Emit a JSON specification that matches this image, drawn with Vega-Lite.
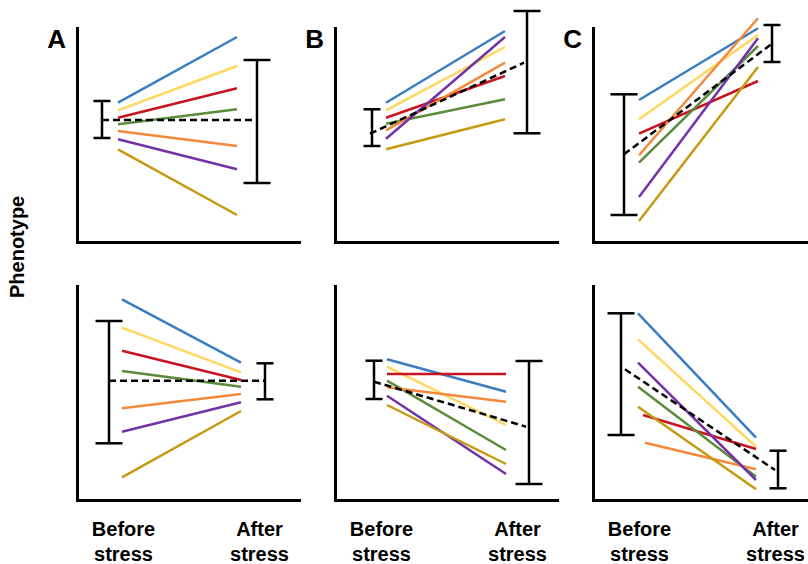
{
  "$schema": "https://vega.github.io/schema/vega-lite/v6.json",
  "autosize": {"type": "pad"},
  "padding": {"left": 8, "top": 9, "right": 0, "bottom": 0},
  "background": "white",
  "title": {"text": "Phenotype", "orient": "left", "anchor": "middle", "font": "Liberation Sans", "fontSize": 20, "fontWeight": "bold", "color": "black", "offset": 19, "dx": 40},
  "config": {
    "view": {"stroke": null},
    "axis": {"domainColor": "black", "domainWidth": 3, "ticks": false, "grid": false, "title": null, "domainCap": "square"}
  },
  "data": {"values": [
    {"row":"top","panel":"A","kind":"line","series":"blue","x":41,"y":139.3},{"row":"top","panel":"A","kind":"line","series":"blue","x":160,"y":205},
    {"row":"top","panel":"A","kind":"line","series":"yellow","x":41,"y":131.7},{"row":"top","panel":"A","kind":"line","series":"yellow","x":160,"y":176},
    {"row":"top","panel":"A","kind":"line","series":"red","x":41,"y":124.3},{"row":"top","panel":"A","kind":"line","series":"red","x":160,"y":153.7},
    {"row":"top","panel":"A","kind":"line","series":"green","x":41,"y":117.7},{"row":"top","panel":"A","kind":"line","series":"green","x":160,"y":132.7},
    {"row":"top","panel":"A","kind":"line","series":"orange","x":41,"y":111},{"row":"top","panel":"A","kind":"line","series":"orange","x":160,"y":96},
    {"row":"top","panel":"A","kind":"line","series":"purple","x":41,"y":102.7},{"row":"top","panel":"A","kind":"line","series":"purple","x":160,"y":72.7},
    {"row":"top","panel":"A","kind":"line","series":"gold","x":41,"y":92.7},{"row":"top","panel":"A","kind":"line","series":"gold","x":160,"y":27},
    {"row":"top","panel":"A","kind":"mean","x":25,"y":122},{"row":"top","panel":"A","kind":"mean","x":180,"y":122},
    {"row":"top","panel":"A","kind":"err","x":25,"lo":104,"hi":141,"spread":"narrow"},
    {"row":"top","panel":"A","kind":"err","x":180,"lo":59,"hi":182,"spread":"wide"},
    {"row":"top","panel":"A","kind":"letter"},

    {"row":"top","panel":"B","kind":"line","series":"blue","x":51,"y":139.3},{"row":"top","panel":"B","kind":"line","series":"blue","x":170,"y":211},
    {"row":"top","panel":"B","kind":"line","series":"yellow","x":51,"y":131.7},{"row":"top","panel":"B","kind":"line","series":"yellow","x":170,"y":195},
    {"row":"top","panel":"B","kind":"line","series":"red","x":51,"y":124.3},{"row":"top","panel":"B","kind":"line","series":"red","x":170,"y":166},
    {"row":"top","panel":"B","kind":"line","series":"green","x":51,"y":118.3},{"row":"top","panel":"B","kind":"line","series":"green","x":170,"y":142.7},
    {"row":"top","panel":"B","kind":"line","series":"orange","x":51,"y":111.7},{"row":"top","panel":"B","kind":"line","series":"orange","x":170,"y":179.3},
    {"row":"top","panel":"B","kind":"line","series":"purple","x":51,"y":103.3},{"row":"top","panel":"B","kind":"line","series":"purple","x":170,"y":205},
    {"row":"top","panel":"B","kind":"line","series":"gold","x":51,"y":92.7},{"row":"top","panel":"B","kind":"line","series":"gold","x":170,"y":122.7},
    {"row":"top","panel":"B","kind":"mean","x":35,"y":108.3},{"row":"top","panel":"B","kind":"mean","x":189,"y":179.3},
    {"row":"top","panel":"B","kind":"err","x":37,"lo":96,"hi":132.7,"spread":"narrow"},
    {"row":"top","panel":"B","kind":"err","x":192,"lo":108.7,"hi":231,"spread":"wide"},
    {"row":"top","panel":"B","kind":"letter"},

    {"row":"top","panel":"C","kind":"line","series":"blue","x":46,"y":142},{"row":"top","panel":"C","kind":"line","series":"blue","x":165,"y":213.7},
    {"row":"top","panel":"C","kind":"line","series":"yellow","x":46,"y":122.7},{"row":"top","panel":"C","kind":"line","series":"yellow","x":165,"y":207},
    {"row":"top","panel":"C","kind":"line","series":"red","x":46,"y":108.3},{"row":"top","panel":"C","kind":"line","series":"red","x":165,"y":161},
    {"row":"top","panel":"C","kind":"line","series":"green","x":46,"y":79.3},{"row":"top","panel":"C","kind":"line","series":"green","x":165,"y":196},
    {"row":"top","panel":"C","kind":"line","series":"orange","x":46,"y":86.7},{"row":"top","panel":"C","kind":"line","series":"orange","x":165,"y":223.7},
    {"row":"top","panel":"C","kind":"line","series":"purple","x":46,"y":45},{"row":"top","panel":"C","kind":"line","series":"purple","x":165,"y":203.7},
    {"row":"top","panel":"C","kind":"line","series":"gold","x":46,"y":21},{"row":"top","panel":"C","kind":"line","series":"gold","x":165,"y":175},
    {"row":"top","panel":"C","kind":"mean","x":31,"y":87.7},{"row":"top","panel":"C","kind":"mean","x":179,"y":198.3},
    {"row":"top","panel":"C","kind":"err","x":31,"lo":27,"hi":147.7,"spread":"wide"},
    {"row":"top","panel":"C","kind":"err","x":179,"lo":180,"hi":217,"spread":"narrow"},
    {"row":"top","panel":"C","kind":"letter"},

    {"row":"bottom","panel":"A","kind":"line","series":"blue","x":45,"y":200.7},{"row":"bottom","panel":"A","kind":"line","series":"blue","x":164,"y":137.3},
    {"row":"bottom","panel":"A","kind":"line","series":"yellow","x":45,"y":172.3},{"row":"bottom","panel":"A","kind":"line","series":"yellow","x":164,"y":127.7},
    {"row":"bottom","panel":"A","kind":"line","series":"red","x":45,"y":149.3},{"row":"bottom","panel":"A","kind":"line","series":"red","x":164,"y":120},
    {"row":"bottom","panel":"A","kind":"line","series":"green","x":45,"y":129},{"row":"bottom","panel":"A","kind":"line","series":"green","x":164,"y":113.3},
    {"row":"bottom","panel":"A","kind":"line","series":"orange","x":45,"y":91.7},{"row":"bottom","panel":"A","kind":"line","series":"orange","x":164,"y":106},
    {"row":"bottom","panel":"A","kind":"line","series":"purple","x":45,"y":68.3},{"row":"bottom","panel":"A","kind":"line","series":"purple","x":164,"y":97.7},
    {"row":"bottom","panel":"A","kind":"line","series":"gold","x":45,"y":22.7},{"row":"bottom","panel":"A","kind":"line","series":"gold","x":164,"y":89},
    {"row":"bottom","panel":"A","kind":"mean","x":32,"y":119.3},{"row":"bottom","panel":"A","kind":"mean","x":188,"y":119.3},
    {"row":"bottom","panel":"A","kind":"err","x":32,"lo":56.7,"hi":179,"spread":"wide"},
    {"row":"bottom","panel":"A","kind":"err","x":188,"lo":100.7,"hi":136.7,"spread":"narrow"},

    {"row":"bottom","panel":"B","kind":"line","series":"blue","x":52,"y":140.7},{"row":"bottom","panel":"B","kind":"line","series":"blue","x":171,"y":108.3},
    {"row":"bottom","panel":"B","kind":"line","series":"yellow","x":52,"y":133.3},{"row":"bottom","panel":"B","kind":"line","series":"yellow","x":171,"y":75},
    {"row":"bottom","panel":"B","kind":"line","series":"red","x":52,"y":126},{"row":"bottom","panel":"B","kind":"line","series":"red","x":171,"y":126},
    {"row":"bottom","panel":"B","kind":"line","series":"green","x":52,"y":119.3},{"row":"bottom","panel":"B","kind":"line","series":"green","x":171,"y":50},
    {"row":"bottom","panel":"B","kind":"line","series":"orange","x":52,"y":112.7},{"row":"bottom","panel":"B","kind":"line","series":"orange","x":171,"y":98.3},
    {"row":"bottom","panel":"B","kind":"line","series":"purple","x":52,"y":104.3},{"row":"bottom","panel":"B","kind":"line","series":"purple","x":171,"y":26},
    {"row":"bottom","panel":"B","kind":"line","series":"gold","x":52,"y":95},{"row":"bottom","panel":"B","kind":"line","series":"gold","x":171,"y":36},
    {"row":"bottom","panel":"B","kind":"mean","x":39,"y":118.3},{"row":"bottom","panel":"B","kind":"mean","x":191,"y":73.3},
    {"row":"bottom","panel":"B","kind":"err","x":39,"lo":101,"hi":139.3,"spread":"narrow"},
    {"row":"bottom","panel":"B","kind":"err","x":194,"lo":16,"hi":139,"spread":"wide"},

    {"row":"bottom","panel":"C","kind":"line","series":"blue","x":45,"y":186.7},{"row":"bottom","panel":"C","kind":"line","series":"blue","x":163,"y":62.3},
    {"row":"bottom","panel":"C","kind":"line","series":"yellow","x":45,"y":160.7},{"row":"bottom","panel":"C","kind":"line","series":"yellow","x":163,"y":53.3},
    {"row":"bottom","panel":"C","kind":"line","series":"red","x":50,"y":85},{"row":"bottom","panel":"C","kind":"line","series":"red","x":163,"y":51},
    {"row":"bottom","panel":"C","kind":"line","series":"green","x":45,"y":113.3},{"row":"bottom","panel":"C","kind":"line","series":"green","x":163,"y":23.3},
    {"row":"bottom","panel":"C","kind":"line","series":"orange","x":52,"y":57.3},{"row":"bottom","panel":"C","kind":"line","series":"orange","x":163,"y":30.7},
    {"row":"bottom","panel":"C","kind":"line","series":"purple","x":45,"y":137.3},{"row":"bottom","panel":"C","kind":"line","series":"purple","x":163,"y":20},
    {"row":"bottom","panel":"C","kind":"line","series":"gold","x":45,"y":93.3},{"row":"bottom","panel":"C","kind":"line","series":"gold","x":163,"y":10.7},
    {"row":"bottom","panel":"C","kind":"mean","x":32,"y":130.7},{"row":"bottom","panel":"C","kind":"mean","x":182,"y":30},
    {"row":"bottom","panel":"C","kind":"err","x":28,"lo":65,"hi":186.7,"spread":"wide"},
    {"row":"bottom","panel":"C","kind":"err","x":185,"lo":11.7,"hi":49.3,"spread":"narrow"}
  ]},
  "spacing": 44,
  "vconcat": [
    {
      "transform": [{"filter": "datum.row === 'top'"}],
      "facet": {"column": {"field": "panel", "type": "nominal", "header": null}},
      "spacing": 6,
      "resolve": {"scale": {"x": "independent", "y": "independent"}, "axis": {"x": "independent", "y": "independent"}},
      "spec": {
        "width": 222,
        "height": 214,
        "layer": [
          {
            "transform": [{"filter": "datum.kind === 'line'"}],
            "mark": {"type": "line", "strokeWidth": 2.5, "clip": false},
            "encoding": {
              "x": {"field": "x", "type": "quantitative", "scale": {"domain": [0, 222], "nice": false, "zero": false}, "axis": {"labels": false}},
              "y": {"field": "y", "type": "quantitative", "scale": {"domain": [0, 214], "nice": false, "zero": false}, "axis": {"labels": false}},
              "color": {"field": "series", "type": "nominal", "legend": null, "scale": {"domain": ["blue","yellow","red","green","orange","purple","gold"], "range": ["#3A7DC2","#FFD75E","#C8141E","#5A8C3C","#F5893A","#7233A8","#C49A10"]}},
              "detail": {"field": "series"}
            }
          },
          {
            "transform": [{"filter": "datum.kind === 'mean'"}],
            "mark": {"type": "line", "strokeWidth": 2.5, "color": "black", "strokeDash": [7, 4], "clip": false},
            "encoding": {
              "x": {"field": "x", "type": "quantitative", "scale": {"domain": [0, 222], "nice": false, "zero": false}},
              "y": {"field": "y", "type": "quantitative", "scale": {"domain": [0, 214], "nice": false, "zero": false}}
            }
          },
          {
            "transform": [{"filter": "datum.kind === 'err'"}],
            "mark": {"type": "rule", "strokeWidth": 2.5, "color": "black", "clip": false},
            "encoding": {
              "x": {"field": "x", "type": "quantitative", "scale": {"domain": [0, 222], "nice": false, "zero": false}},
              "y": {"field": "lo", "type": "quantitative", "scale": {"domain": [0, 214], "nice": false, "zero": false}},
              "y2": {"field": "hi"}
            }
          },
          {
            "transform": [{"filter": "datum.kind === 'err'"}, {"fold": ["lo", "hi"], "as": ["end", "val"]}],
            "mark": {"type": "tick", "orient": "horizontal", "thickness": 2.5, "color": "black", "opacity": 1, "clip": false},
            "encoding": {
              "x": {"field": "x", "type": "quantitative", "scale": {"domain": [0, 222], "nice": false, "zero": false}},
              "y": {"field": "val", "type": "quantitative", "scale": {"domain": [0, 214], "nice": false, "zero": false}},
              "size": {"field": "spread", "type": "nominal", "legend": null, "scale": {"domain": ["wide", "narrow"], "range": [27, 17]}}
            }
          },
          {
            "transform": [{"filter": "datum.kind === 'letter'"}],
            "mark": {"type": "text", "font": "Liberation Sans", "fontSize": 26, "fontWeight": "bold", "color": "black", "align": "right", "baseline": "alphabetic", "dx": -11, "dy": 20, "clip": false},
            "encoding": {
              "x": {"datum": 0, "type": "quantitative", "scale": {"domain": [0, 222], "nice": false, "zero": false}},
              "y": {"datum": 214, "type": "quantitative", "scale": {"domain": [0, 214], "nice": false, "zero": false}},
              "text": {"field": "panel"}
            }
          }
        ]
      }
    },
    {
      "transform": [{"filter": "datum.row === 'bottom'"}],
      "facet": {"column": {"field": "panel", "type": "nominal", "header": null}},
      "spacing": 36,
      "resolve": {"scale": {"x": "independent", "y": "independent"}, "axis": {"x": "independent", "y": "independent"}},
      "spec": {
        "width": 222,
        "height": 214,
        "layer": [
          {
            "transform": [{"filter": "datum.kind === 'line'"}],
            "mark": {"type": "line", "strokeWidth": 2.5, "clip": false},
            "encoding": {
              "x": {"field": "x", "type": "quantitative", "scale": {"domain": [0, 222], "nice": false, "zero": false}, "axis": {"values": [46, 182], "labelExpr": "datum.value < 100 ? ['Before', 'stress'] : ['After', 'stress']", "labelFont": "Liberation Sans", "labelFontSize": 20, "labelFontWeight": "bold", "labelColor": "black", "labelLineHeight": 25, "labelPadding": 19, "labelFlush": false, "labelOverlap": false, "labelBound": false}},
              "y": {"field": "y", "type": "quantitative", "scale": {"domain": [0, 214], "nice": false, "zero": false}, "axis": {"labels": false}},
              "color": {"field": "series", "type": "nominal", "legend": null, "scale": {"domain": ["blue","yellow","red","green","orange","purple","gold"], "range": ["#3A7DC2","#FFD75E","#C8141E","#5A8C3C","#F5893A","#7233A8","#C49A10"]}},
              "detail": {"field": "series"}
            }
          },
          {
            "transform": [{"filter": "datum.kind === 'mean'"}],
            "mark": {"type": "line", "strokeWidth": 2.5, "color": "black", "strokeDash": [7, 4], "clip": false},
            "encoding": {
              "x": {"field": "x", "type": "quantitative", "scale": {"domain": [0, 222], "nice": false, "zero": false}},
              "y": {"field": "y", "type": "quantitative", "scale": {"domain": [0, 214], "nice": false, "zero": false}}
            }
          },
          {
            "transform": [{"filter": "datum.kind === 'err'"}],
            "mark": {"type": "rule", "strokeWidth": 2.5, "color": "black", "clip": false},
            "encoding": {
              "x": {"field": "x", "type": "quantitative", "scale": {"domain": [0, 222], "nice": false, "zero": false}},
              "y": {"field": "lo", "type": "quantitative", "scale": {"domain": [0, 214], "nice": false, "zero": false}},
              "y2": {"field": "hi"}
            }
          },
          {
            "transform": [{"filter": "datum.kind === 'err'"}, {"fold": ["lo", "hi"], "as": ["end", "val"]}],
            "mark": {"type": "tick", "orient": "horizontal", "thickness": 2.5, "color": "black", "opacity": 1, "clip": false},
            "encoding": {
              "x": {"field": "x", "type": "quantitative", "scale": {"domain": [0, 222], "nice": false, "zero": false}},
              "y": {"field": "val", "type": "quantitative", "scale": {"domain": [0, 214], "nice": false, "zero": false}},
              "size": {"field": "spread", "type": "nominal", "legend": null, "scale": {"domain": ["wide", "narrow"], "range": [27, 17]}}
            }
          }
        ]
      }
    }
  ]
}
